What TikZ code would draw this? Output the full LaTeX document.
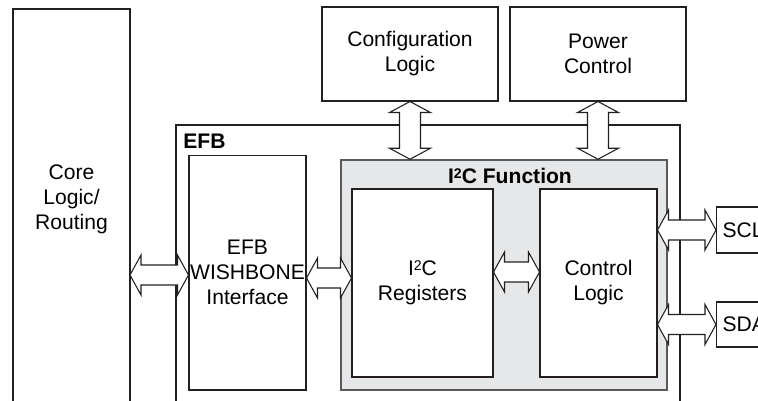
\documentclass[tikz,border=0pt]{standalone}
\usepackage{fontspec}
\setmainfont{Liberation Sans}
\usetikzlibrary{calc,positioning}

\definecolor{inkline}{HTML}{231F20}
\definecolor{fnfill}{HTML}{E6E7E8}
\definecolor{fnline}{HTML}{58595B}

\newcommand{\itwoc}{I\raisebox{0.24em}{\fontsize{8}{8}\selectfont 2}C}

% open block arrow, two heads, left to right
\newcommand{\hbus}[2]{%
  \draw[bus] let \p1=(#1), \p2=(#2) in
    (\x1,\y1) -- (\x1+0.22cm,\y1+0.4cm) -- (\x1+0.22cm,\y1+0.2cm)
    -- (\x2-0.22cm,\y1+0.2cm) -- (\x2-0.22cm,\y1+0.4cm) -- (\x2,\y1)
    -- (\x2-0.22cm,\y1-0.4cm) -- (\x2-0.22cm,\y1-0.2cm)
    -- (\x1+0.22cm,\y1-0.2cm) -- (\x1+0.22cm,\y1-0.4cm) -- cycle;}
% open block arrow, two heads, top to bottom
\newcommand{\vbus}[2]{%
  \draw[bus] let \p1=(#1), \p2=(#2) in
    (\x1,\y1) -- (\x1+0.41cm,\y1-0.22cm) -- (\x1+0.21cm,\y1-0.22cm)
    -- (\x1+0.21cm,\y2+0.22cm) -- (\x1+0.41cm,\y2+0.22cm) -- (\x1,\y2)
    -- (\x1-0.41cm,\y2+0.22cm) -- (\x1-0.21cm,\y2+0.22cm)
    -- (\x1-0.21cm,\y1-0.22cm) -- (\x1-0.41cm,\y1-0.22cm) -- cycle;}

\tikzset{
  box/.style={draw=inkline, line width=0.6pt, fill=white, align=center,
    inner sep=0pt, font=\fontsize{12}{14.2}\selectfont},
  pin/.style={box, anchor=west, text width=1.3cm, align=left, inner xsep=0.12cm},
  title/.style={inner sep=0pt, font=\fontsize{12}{14.2}\selectfont\bfseries},
  bus/.style={draw=inkline, line width=0.6pt, fill=white, line join=miter},
}

\begin{document}
\begin{tikzpicture}[x=0.02cm, y=-0.02cm]
    \useasboundingbox (0,0) rectangle (758,400);
    \clip (0,0) rectangle (758,400);

    % core logic, open at the bottom
    \draw[draw=inkline, line width=0.6pt] (13,430) |- (130,9) -- (130,430);
    \node[align=center, font=\fontsize{12}{14.2}\selectfont] (core) at (71.5,199) {Core\\Logic/\\Routing};

    % top blocks
    \node[box, minimum width=3.52cm, minimum height=1.88cm] (cfg) at (410,54) {Configuration\\Logic};
    \node[box, minimum width=3.52cm, minimum height=1.88cm] (pwr) at (598,54) {Power\\Control};

    % EFB frame
    \draw[draw=inkline, line width=0.6pt] (176,430) |- (680,125) -- (680,430);
    \node[title, anchor=west] (efb) at (183,141.5) {EFB};

    \node[box, minimum width=2.34cm, minimum height=4.7cm] (wb) at (247.5,272.5) {EFB\\WISHBONE\\Interface};

    % I2C function block
    \node[draw=fnline, line width=0.9pt, fill=fnfill, minimum width=6.52cm, minimum height=4.6cm] (i2c) at (504,275) {};
    \node[title] (fn) at (510,176) {\itwoc{} Function};
    \node[box, minimum width=2.82cm, minimum height=3.76cm] (reg) at (422.5,283) {\itwoc\\Registers};
    \node[box, minimum width=2.34cm, minimum height=3.76cm] (ctl) at (598.5,283) {Control\\Logic};

    % pins
    \node[pin, minimum height=0.92cm] (scl) at (716,230) {SCL};
    \node[pin, minimum height=0.9cm] (sda) at (716,324.5) {SDA};

    % buses
    \vbus{cfg.south}{cfg.south |- i2c.north}
    \vbus{pwr.south}{pwr.south |- i2c.north}
    \hbus{130,275}{wb.west |- 0,275}
    \hbus{wb.east |- 0,278}{reg.west |- 0,278}
    \hbus{reg.east |- 0,272}{ctl.west |- 0,272}
    \hbus{ctl.east |- scl.west}{scl.west}
    \hbus{ctl.east |- sda.west}{sda.west}
\end{tikzpicture}
\end{document}
